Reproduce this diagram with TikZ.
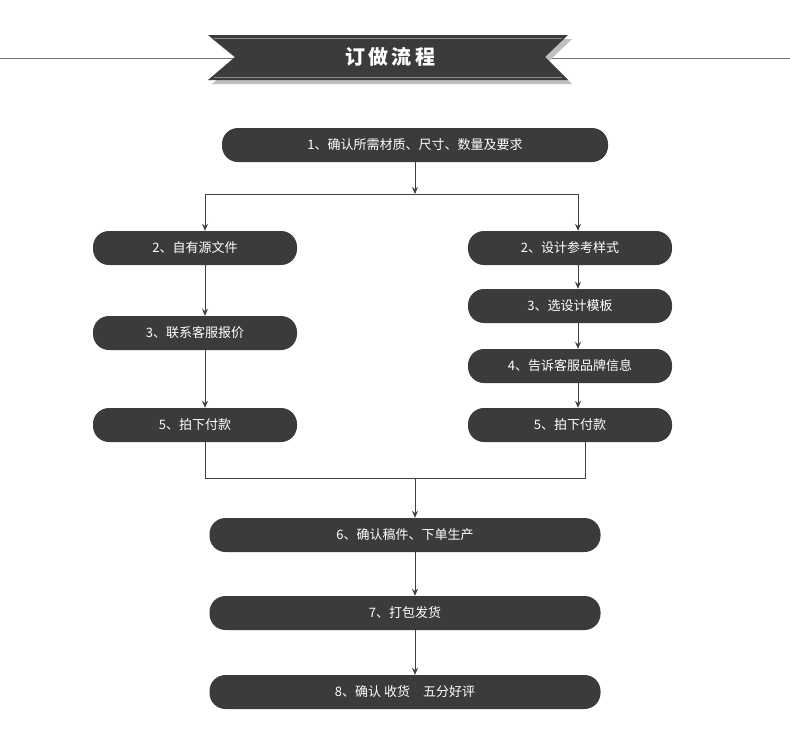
\documentclass[tikz,border=0pt]{standalone}
\usepackage{fontspec}
\setmainfont{Noto Sans CJK SC}
\usetikzlibrary{arrows.meta}
\definecolor{boxc}{HTML}{3B3B3B}
\begin{document}
\begin{tikzpicture}[x=1pt,y=-1pt,
  box/.style={draw=none,fill=boxc,rounded corners=16pt,text=white,font=\fontsize{13}{15}\selectfont,minimum height=34pt,inner sep=0pt},
  arr/.style={draw=black!75,line width=0.8pt,-{Stealth[length=7pt,width=6pt]}},
  ln/.style={draw=black!75,line width=0.8pt}]
\useasboundingbox (0,0) rectangle (790,740);
\fill[white] (0,0) rectangle (790,740);
\draw[black!55,line width=0.8pt] (0,58) -- (790,58);
\fill[black!25] (212,39) -- (572,39) -- (549,61) -- (572,84) -- (212,84) -- (239,61) -- cycle;
\fill[boxc] (208,35) -- (568,35) -- (545,57) -- (568,80) -- (208,80) -- (235,57) -- cycle;
\draw[black!45,line width=1pt] (214,38) -- (562,38) (214,77) -- (562,77);
\node[text=white,font=\fontsize{20}{22}\selectfont\bfseries] (title) at (390,57) {订\,做\,流\,程};
\node[box,minimum width=386pt] (n1) at (415,145) {1、确认所需材质、尺寸、数量及要求};
\node[box,minimum width=204pt] (l2) at (195,248) {2、自有源文件};
\node[box,minimum width=204pt] (l3) at (195,333) {3、联系客服报价};
\node[box,minimum width=204pt] (l5) at (195,425) {5、拍下付款};
\node[box,minimum width=204pt] (r2) at (570,248) {2、设计参考样式};
\node[box,minimum width=204pt] (r3) at (570,306) {3、选设计模板};
\node[box,minimum width=204pt] (r4) at (570,366) {4、告诉客服品牌信息};
\node[box,minimum width=204pt] (r5) at (570,425) {5、拍下付款};
\node[box,minimum width=391pt] (n6) at (405,535) {6、确认稿件、下单生产};
\node[box,minimum width=391pt] (n7) at (405,613) {7、打包发货};
\node[box,minimum width=391pt] (n8) at (405,692) {8、确认 收货\quad 五分好评};
\coordinate (s) at (415,194);
\coordinate (sl) at (205,194);
\coordinate (sr) at (578,194);
\coordinate (m) at (415,478);
\coordinate (ml) at (205,478);
\coordinate (mr) at (585,478);
\draw[arr] (n1.south -| s) -- (s);
\draw[ln] (sl) -- (sr);
\draw[arr] (sl) -- (sl |- l2.north);
\draw[arr] (sr) -- (sr |- r2.north);
\draw[arr] (l2.south -| sl) -- (l3.north -| sl);
\draw[arr] (l3.south -| sl) -- (l5.north -| sl);
\draw[arr] (r2.south -| sr) -- (r3.north -| sr);
\draw[arr] (r3.south -| sr) -- (r4.north -| sr);
\draw[arr] (r4.south -| sr) -- (r5.north -| sr);
\draw[ln] (l5.south -| ml) -- (ml) -- (mr) -- (r5.south -| mr);
\draw[arr] (m) -- (n6.north -| m);
\draw[arr] (n6.south -| m) -- (n7.north -| m);
\draw[arr] (n7.south -| m) -- (n8.north -| m);
\end{tikzpicture}
\end{document}
